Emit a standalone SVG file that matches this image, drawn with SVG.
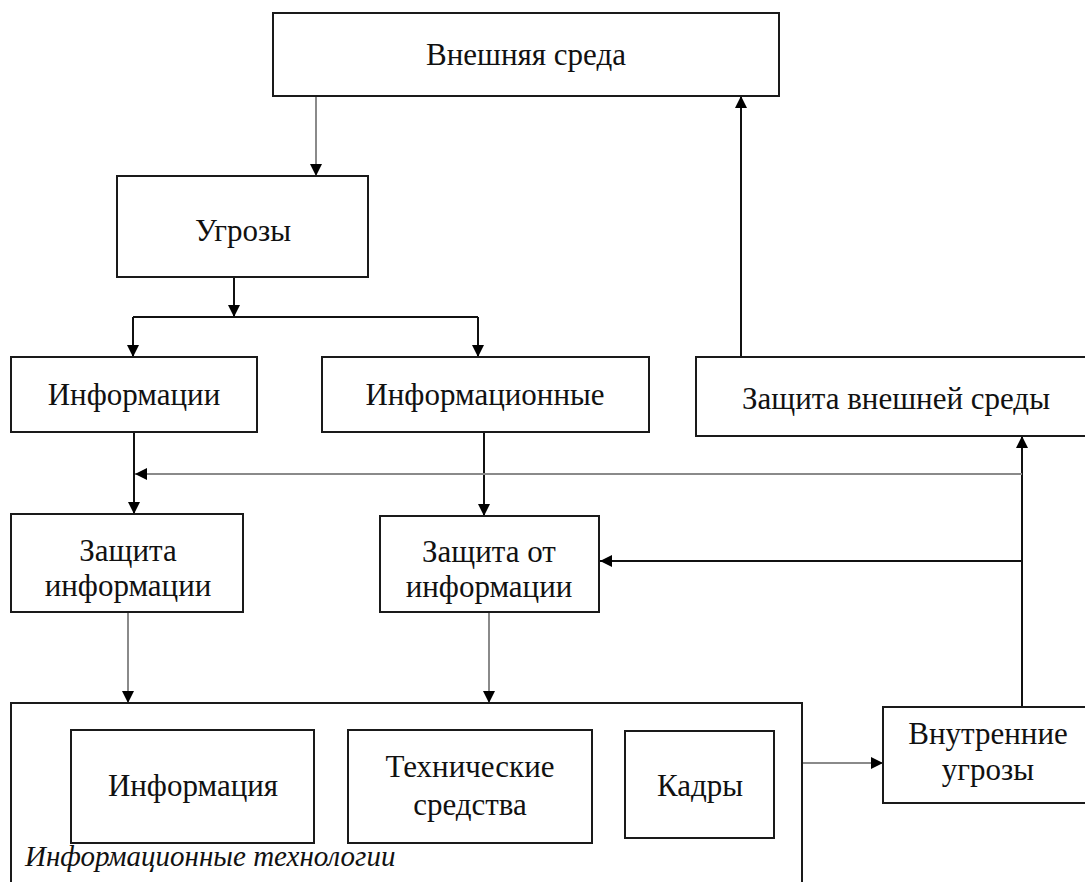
<svg xmlns="http://www.w3.org/2000/svg" width="1085" height="882" viewBox="0 0 1085 882">
<defs>
<marker id="ah" viewBox="0 0 10 10" refX="10" refY="5" markerUnits="userSpaceOnUse" markerWidth="12" markerHeight="14" orient="auto">
<path d="M0,0 L10,5 L0,10 z" fill="#000"/>
</marker>
</defs>
<rect width="1085" height="882" fill="#fff"/>

<g id="connectors" fill="none" stroke-width="2">
<g stroke="#111">
<path d="M741,357 V96" marker-end="url(#ah)"/>
<path d="M234,277 V317" marker-end="url(#ah)"/>
<path d="M133,317 H478"/>
<path d="M133,317 V357" marker-end="url(#ah)"/>
<path d="M478,317 V357" marker-end="url(#ah)"/>
<path d="M134,432 V514" marker-end="url(#ah)"/>
<path d="M484,432 V516" marker-end="url(#ah)"/>
<path d="M1022,707 V436" marker-end="url(#ah)"/>
<path d="M1022,561 H600" marker-end="url(#ah)"/>
</g>
<g stroke="#8a8a8a">
<path d="M316,96 V176" marker-end="url(#ah)"/>
<path d="M1022,474 H135" marker-end="url(#ah)"/>
<path d="M128,612 V703" marker-end="url(#ah)"/>
<path d="M489,612 V703" marker-end="url(#ah)"/>
<path d="M802,763 H883" marker-end="url(#ah)"/>
</g>
</g>

<g id="nodes" font-family="Liberation Serif" font-size="31" text-anchor="middle">
<g id="n-vneshnyaya">
<rect x="273" y="13" width="506" height="83" fill="#fff" stroke="#1a1a1a" stroke-width="2"/>
<text x="526" y="65" font-family="Liberation Serif" fill="#111">Внешняя среда</text>
</g>
<g id="n-ugrozy">
<rect x="117" y="176" width="251" height="101" fill="#fff" stroke="#1a1a1a" stroke-width="2"/>
<text x="243" y="241" font-family="Liberation Serif" fill="#111">Угрозы</text>
</g>
<g id="n-informacii">
<rect x="11" y="357" width="246" height="75" fill="#fff" stroke="#1a1a1a" stroke-width="2"/>
<text x="134" y="405" font-family="Liberation Serif" fill="#111">Информации</text>
</g>
<g id="n-informacionnye">
<rect x="322" y="357" width="327" height="75" fill="#fff" stroke="#1a1a1a" stroke-width="2"/>
<text x="485" y="405" font-family="Liberation Serif" fill="#111">Информационные</text>
</g>
<g id="n-zashchita-sredy">
<rect x="696" y="357" width="400" height="79" fill="#fff" stroke="#1a1a1a" stroke-width="2"/>
<text x="896" y="409" font-family="Liberation Serif" fill="#111">Защита внешней среды</text>
</g>
<g id="n-zashchita-inf">
<rect x="11" y="514" width="232" height="98" fill="#fff" stroke="#1a1a1a" stroke-width="2"/>
<text x="128" y="561" font-family="Liberation Serif" fill="#111">Защита</text>
<text x="128" y="596" font-family="Liberation Serif" fill="#111">информации</text>
</g>
<g id="n-zashchita-ot">
<rect x="380" y="516" width="219" height="96" fill="#fff" stroke="#1a1a1a" stroke-width="2"/>
<text x="489" y="562" font-family="Liberation Serif" fill="#111">Защита от</text>
<text x="489" y="597" font-family="Liberation Serif" fill="#111">информации</text>
</g>
<g id="n-it">
<rect x="11" y="703" width="791" height="200" fill="#fff" stroke="#1a1a1a" stroke-width="2"/>
<text x="25" y="866" font-family="Liberation Serif" font-size="29" font-style="italic" text-anchor="start" fill="#111">Информационные технологии</text>
</g>
<g id="n-informaciya">
<rect x="71" y="730" width="243" height="113" fill="#fff" stroke="#1a1a1a" stroke-width="2"/>
<text x="193" y="796" font-family="Liberation Serif" fill="#111">Информация</text>
</g>
<g id="n-tekhnicheskie">
<rect x="348" y="730" width="244" height="113" fill="#fff" stroke="#1a1a1a" stroke-width="2"/>
<text x="470" y="777" font-family="Liberation Serif" fill="#111">Технические</text>
<text x="470" y="815" font-family="Liberation Serif" fill="#111">средства</text>
</g>
<g id="n-kadry">
<rect x="625" y="731" width="149" height="107" fill="#fff" stroke="#1a1a1a" stroke-width="2"/>
<text x="700" y="796" font-family="Liberation Serif" fill="#111">Кадры</text>
</g>
<g id="n-vnutrennie">
<rect x="883" y="707" width="210" height="96" fill="#fff" stroke="#1a1a1a" stroke-width="2"/>
<text x="988" y="744" font-family="Liberation Serif" fill="#111">Внутренние</text>
<text x="988" y="780" font-family="Liberation Serif" fill="#111">угрозы</text>
</g>
</g>
</svg>
